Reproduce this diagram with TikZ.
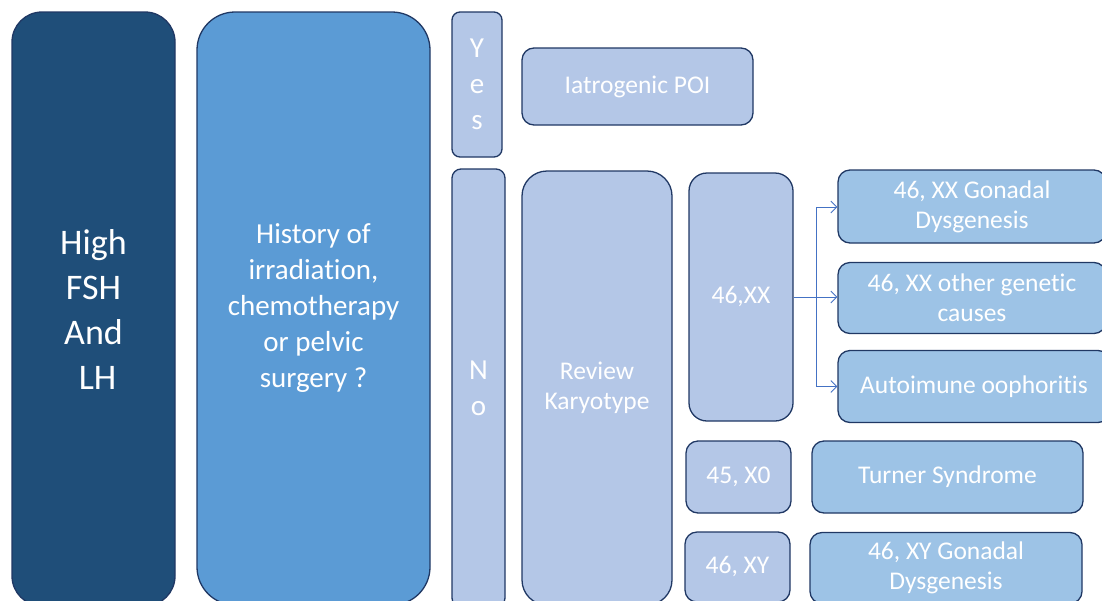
\documentclass[tikz,border=0pt]{standalone}
\usepackage{fontspec}
\setmainfont{Carlito}[Ligatures=NoCommon]
\usetikzlibrary{arrows.meta}
\definecolor{deepblue}{HTML}{1F4E79}
\definecolor{midblue}{HTML}{5B9BD5}
\definecolor{paleblue}{HTML}{B4C7E7}
\definecolor{skyblue}{HTML}{9DC3E6}
\definecolor{edgeblue}{HTML}{203864}
\definecolor{arrowblue}{HTML}{4472C4}
\tikzset{
  poi/.style={rectangle, draw=edgeblue, line width=1.3pt, text=white, align=center, inner sep=0pt},
  bigtext/.style={font=\fontsize{36}{45}\selectfont},
  midtext/.style={font=\fontsize{29}{36}\selectfont},
  smalltext/.style={font=\fontsize{25.5}{30}\selectfont},
  lettertext/.style={font=\fontsize{29}{36}\selectfont},
  fork/.style={draw=arrowblue, line width=0.8pt, -{Straight Barb[length=6pt, width=12pt]}}
}
\newcommand{\poibox}[6] {\node at (#1) (#2) [poi, #3, minimum width=#4pt, minimum height=#5pt] {#6};}

\begin{document}
\begin{tikzpicture}[x=1pt, y=-1pt]
\useasboundingbox (0,0) rectangle (1102,600);
\clip (0,0) rectangle (1102,600);

\poibox {93.5,309}{high}{fill=deepblue, rounded corners=30pt, bigtext}{163}{594}{High\\FSH\\And\\\ LH}
\poibox {313.5,308.5}{history}{fill=midblue, rounded corners=38pt, midtext}{233}{593}{History of\\irradiation,\\chemotherapy\\or pelvic\\surgery ?}

\poibox {477,84.5}{yes}{fill=paleblue, rounded corners=8pt, lettertext}{50}{145}{Y\\e\\s}
\poibox {478.5,388}{no}{fill=paleblue, rounded corners=9pt, lettertext}{53}{438}{N\\o}

\poibox {637.5,86.5}{iatro}{fill=paleblue, rounded corners=12pt, smalltext}{231}{77}{Iatrogenic POI}
\poibox {597,388}{review}{fill=paleblue, rounded corners=25pt, smalltext}{150}{434}{Review\\Karyotype}

\poibox {741,297}{xx}{fill=paleblue, rounded corners=18pt, smalltext}{104}{248}{46,XX}
\poibox {738.5,477}{xo}{fill=paleblue, rounded corners=12pt, smalltext}{105}{72}{45, X0}
\poibox {737.5,567}{xy}{fill=paleblue, rounded corners=12pt, smalltext}{105}{70}{46, XY}

\poibox {972,206.5}{xxgonad}{fill=skyblue, rounded corners=12pt, smalltext}{268}{73}{46, XX Gonadal\\Dysgenesis}
\poibox {972,298}{xxother}{fill=skyblue, rounded corners=12pt, smalltext}{268}{71}{46, XX other genetic\\causes}
\poibox {974,386.5}{autoimmune}{fill=skyblue, rounded corners=12pt, smalltext}{272}{72}{Autoimune oophoritis}
\poibox {947.5,477}{turner}{fill=skyblue, rounded corners=12pt, smalltext}{271}{72}{Turner Syndrome}
\poibox {946,568}{xygonad}{fill=skyblue, rounded corners=12pt, smalltext}{272}{71}{46, XY Gonadal\\Dysgenesis}

% 46,XX branches
\coordinate (xxfork) at (816,297);
\draw [fork] (xx.east) -- (xxfork) |- ([yshift=-0.5pt]xxgonad.west);
\draw [fork] (xxfork) -- (xxother.west |- xxfork);
\draw [fork] (xxfork) |- (autoimmune.west);

\end{tikzpicture}
\end{document}
